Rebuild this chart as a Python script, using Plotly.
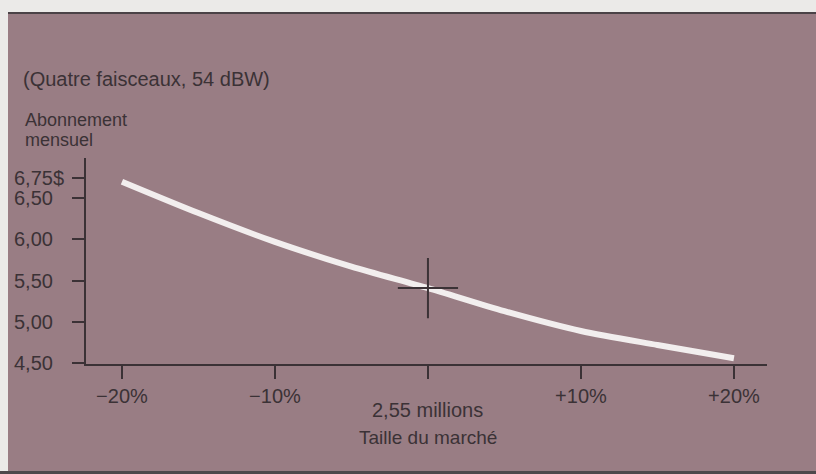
import plotly.graph_objects as go

# Monthly subscription vs. market size (four beams, 54 dBW)
market_change = [-20, -15, -10, -5, 0, 5, 10, 15, 20]          # % change in market size
subscription = [6.70, 6.32, 5.97, 5.67, 5.41, 5.13, 4.89, 4.72, 4.56]  # $ per month

x_tick_vals = [-20, -10, 0, 10, 20]
x_tick_text = ["\u221220%", "\u221210%", "", "+10%", "+20%"]
y_tick_vals = [6.75, 6.50, 6.00, 5.50, 5.00, 4.50]
y_tick_text = ["6,75$", "6,50", "6,00", "5,50", "5,00", "4,50"]

nominal_index = market_change.index(0)
nominal_label = "2,55 millions"

INK = "#3b3236"
PANEL = "#997d84"
FONT = "Liberation Sans, Arial, sans-serif"

W, H = 816, 474
L, R, T, B = 86, 49, 158, 110
pw, ph = W - L - R, H - T - B


def px_x(p):
    return (p - L) / pw


def px_y(p):
    return (H - B - p) / ph


fig = go.Figure()

fig.add_trace(go.Scatter(
    x=market_change, y=subscription, mode="lines",
    line=dict(color="#f2eeee", width=6, shape="spline", smoothing=0.8),
    hoverinfo="skip", showlegend=False,
))

fig.add_trace(go.Scatter(
    x=[market_change[nominal_index]], y=[subscription[nominal_index]],
    mode="markers",
    marker=dict(symbol="cross-thin", size=43, line=dict(color=INK, width=2)),
    hoverinfo="skip", showlegend=False,
))

shapes = [
    # mauve panel
    dict(type="rect", xref="paper", yref="paper", layer="below",
         x0=px_x(8), x1=px_x(W + 5), y0=px_y(471), y1=px_y(13),
         fillcolor=PANEL, line=dict(width=0)),
    # dark rule along the top edge
    dict(type="line", xref="paper", yref="paper", layer="below",
         x0=px_x(8), x1=px_x(W + 5), y0=px_y(13), y1=px_y(13),
         line=dict(color="#4a4246", width=2)),
    # dark band along the bottom edge
    dict(type="rect", xref="paper", yref="paper", layer="below",
         x0=px_x(-5), x1=px_x(W + 5), y0=px_y(H + 5), y1=px_y(471),
         fillcolor="#4e484b", line=dict(width=0)),
]

annotations = []
for v, t in zip(y_tick_vals, y_tick_text):
    annotations.append(dict(
        xref="paper", yref="y", x=px_x(12), y=v, text=t, showarrow=False,
        xanchor="left", yanchor="middle", font=dict(family=FONT, size=20, color=INK),
    ))

annotations += [
    dict(xref="paper", yref="paper", x=px_x(21), y=px_y(79),
         text="(Quatre faisceaux, 54 dBW)", showarrow=False,
         xanchor="left", yanchor="middle", font=dict(family=FONT, size=20, color=INK)),
    dict(xref="paper", yref="paper", x=px_x(23), y=px_y(120),
         text="Abonnement", showarrow=False,
         xanchor="left", yanchor="middle", font=dict(family=FONT, size=18, color=INK)),
    dict(xref="paper", yref="paper", x=px_x(23), y=px_y(140),
         text="mensuel", showarrow=False,
         xanchor="left", yanchor="middle", font=dict(family=FONT, size=18, color=INK)),
    dict(xref="x", yref="paper", x=market_change[nominal_index], y=px_y(410),
         text=nominal_label, showarrow=False,
         xanchor="center", yanchor="middle", font=dict(family=FONT, size=20, color=INK)),
    dict(xref="x", yref="paper", x=market_change[nominal_index], y=px_y(437),
         text="Taille du march\u00e9", showarrow=False,
         xanchor="center", yanchor="middle", font=dict(family=FONT, size=19, color=INK)),
]

fig.update_layout(
    width=W, height=H,
    margin=dict(l=L, r=R, t=T, b=B, pad=0),
    paper_bgcolor="#ebeae8",
    plot_bgcolor="rgba(0,0,0,0)",
    shapes=shapes,
    annotations=annotations,
    showlegend=False,
    xaxis=dict(
        range=[-22.35, 22.16], tickmode="array",
        tickvals=x_tick_vals, ticktext=x_tick_text,
        ticks="outside", ticklen=13, tickwidth=2, tickcolor=INK,
        showline=True, linecolor=INK, linewidth=2,
        showgrid=False, zeroline=False,
        tickfont=dict(family=FONT, size=20, color=INK),
        ticklabelstandoff=0,
    ),
    yaxis=dict(
        range=[4.49, 6.987], tickmode="array", tickvals=y_tick_vals,
        ticks="outside", ticklen=12, tickwidth=2, tickcolor=INK,
        showticklabels=False,
        showline=True, linecolor=INK, linewidth=2,
        showgrid=False, zeroline=False,
    ),
)

fig.write_html("out.html")
